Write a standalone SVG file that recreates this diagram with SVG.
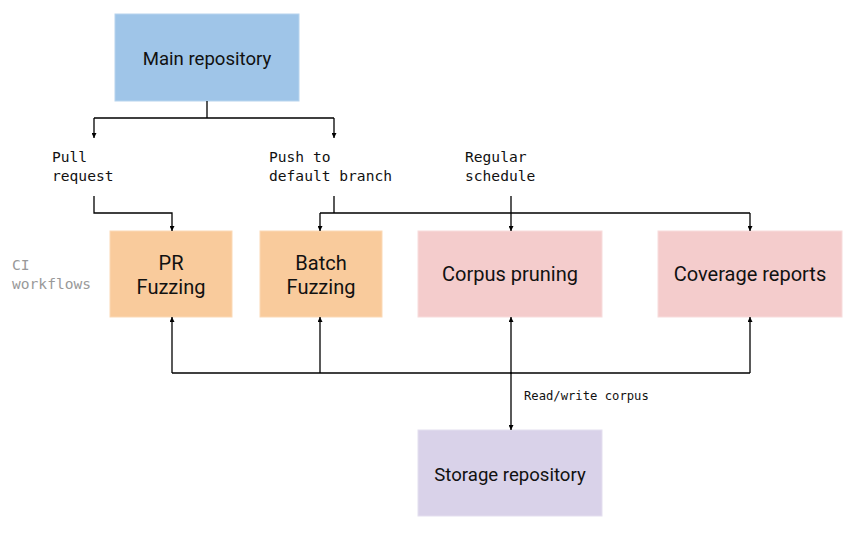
<svg xmlns="http://www.w3.org/2000/svg" width="867" height="539" viewBox="0 0 867 539">
<defs>
<marker id="ah" viewBox="0 0 10 10" refX="10" refY="5" markerWidth="5" markerHeight="5" orient="auto" markerUnits="userSpaceOnUse"><path d="M0,0 L10,5 L0,10 z" fill="#000"/></marker>
</defs>
<style>
.box{stroke-width:1}
.t{font-family:Roboto,"Liberation Sans",sans-serif;font-size:18.6px;fill:#111;text-anchor:middle}
.t2{font-size:20px}
.m{font-family:"DejaVu Sans Mono","Liberation Mono",monospace;font-size:14.6px;fill:#111}
.g{fill:#999}
.c{fill:none;stroke:#000;stroke-width:1.3}
.a{marker-end:url(#ah)}
</style>
<rect width="867" height="539" fill="#fff"/>
<g id="main"><rect class="box" x="115" y="14" width="184" height="87" fill="#9fc5e8" stroke="#b7d4ee"/><text class="t" x="207" y="65">Main repository</text></g>
<g id="pr"><rect class="box" x="110" y="231" width="122" height="86" fill="#f9cb9c" stroke="#fbd9b6"/><text class="t t2" x="171" y="270">PR</text><text class="t t2" x="171" y="294">Fuzzing</text></g>
<g id="batch"><rect class="box" x="260" y="231" width="122" height="86" fill="#f9cb9c" stroke="#fbd9b6"/><text class="t t2" x="321" y="270">Batch</text><text class="t t2" x="321" y="294">Fuzzing</text></g>
<g id="pruning"><rect class="box" x="418" y="231" width="184" height="86" fill="#f4cccc" stroke="#f8dcdc"/><text class="t t2" x="510" y="281">Corpus pruning</text></g>
<g id="coverage"><rect class="box" x="658" y="231" width="184" height="86" fill="#f4cccc" stroke="#f8dcdc"/><text class="t t2" x="750" y="281">Coverage reports</text></g>
<g id="storage"><rect class="box" x="418" y="430" width="184" height="86" fill="#d9d2e9" stroke="#e4dfef"/><text class="t" x="510" y="481">Storage repository</text></g>
<g id="labels">
<text class="m" x="52" y="162">Pull</text><text class="m" x="52" y="181">request</text>
<text class="m" x="269" y="162">Push to</text><text class="m" x="269" y="181">default branch</text>
<text class="m" x="465" y="162">Regular</text><text class="m" x="465" y="181">schedule</text>
<text class="m g" x="12" y="270">CI</text><text class="m g" x="12" y="289">workflows</text>
<text class="m" x="524" y="400" style="font-size:12.2px">Read/write corpus</text>
</g>
<g id="connectors">
<path class="c" d="M207,101 V118 M94,118 H334"/>
<path class="c a" d="M94,118 V138"/>
<path class="c a" d="M334,118 V138"/>
<path class="c a" d="M94,196 V213 H172 V231"/>
<path class="c" d="M334,196 V213 M320,213 H750"/>
<path class="c a" d="M320,213 V231"/>
<path class="c a" d="M750,213 V231"/>
<path class="c a" d="M511,196 V231"/>
<path class="c" d="M172,373 H750"/>
<path class="c a" d="M172,373 V317"/>
<path class="c a" d="M320,373 V317"/>
<path class="c a" d="M750,373 V317"/>
<path class="c a" d="M511,374 V317"/>
<path class="c a" d="M511,372 V430"/>
</g>
</svg>
